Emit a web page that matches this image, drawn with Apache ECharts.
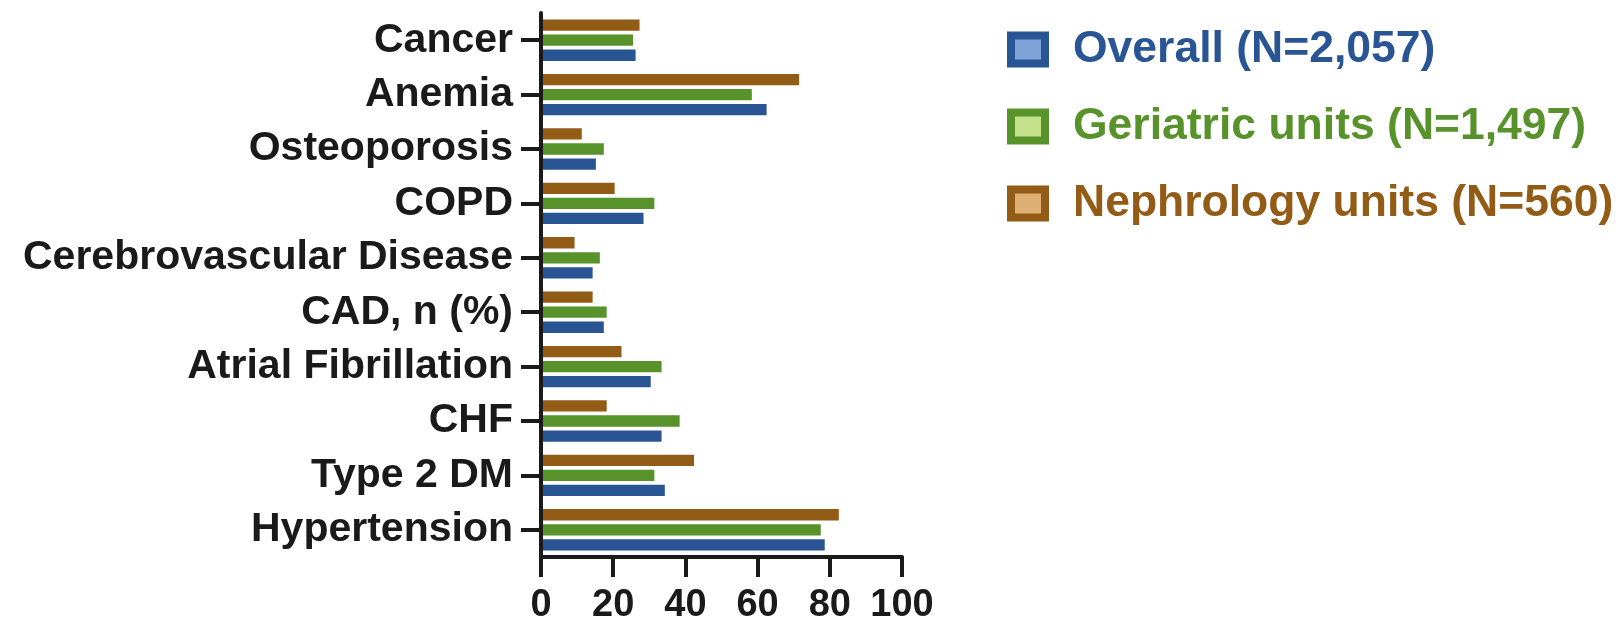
<!DOCTYPE html>
<html>
<head>
<meta charset="utf-8">
<script src="https://cdn.jsdelivr.net/npm/echarts@6/dist/echarts.min.js"></script>
<style>
  html, body { margin: 0; padding: 0; background: #ffffff; }
  #chart { width: 1622px; height: 626px; }
</style>
</head>
<body>
<div id="chart"></div>
<script>
// Comorbidity prevalence (%) by cohort, listed bottom to top
const categories = ['Hypertension', 'Type 2 DM', 'CHF', 'Atrial Fibrillation', 'CAD, n (%)',
  'Cerebrovascular Disease', 'COPD', 'Osteoporosis', 'Anemia', 'Cancer'];
const overall    = [78.6, 34.3, 33.4, 30.4, 17.4, 14.3, 28.4, 15.2, 62.5, 26.2];
const geriatric  = [77.5, 31.4, 38.4, 33.4, 18.2, 16.3, 31.4, 17.4, 58.4, 25.5];
const nephrology = [82.5, 42.4, 18.2, 22.3, 14.3,  9.3, 20.4, 11.3, 71.5, 27.3];
const xTicks = [0, 20, 40, 60, 80, 100];

const cohorts = [
  { name: 'Overall (N=2,057)',          values: overall,    dark: '#2a5594', light: '#7fa3d6' },
  { name: 'Geriatric units (N=1,497)',  values: geriatric,  dark: '#57922b', light: '#c3e08a' },
  { name: 'Nephrology units (N=560)',   values: nephrology, dark: '#925c16', light: '#dfb073' }
];

const FONT = '"Liberation Sans", Arial, Helvetica, sans-serif';
const INK = '#1a1a1a';

const chart = echarts.init(document.getElementById('chart'), null, { renderer: 'canvas' });

chart.setOption({
  animation: false,
  backgroundColor: '#ffffff',
  grid: { left: 541, top: 13, width: 361, height: 544, containLabel: false },
  legend: {
    orient: 'vertical',
    left: 1007,
    top: 27,
    padding: 0,
    itemWidth: 34,
    itemHeight: 28,
    itemGap: 32,
    icon: 'rect',
    data: cohorts.map(c => ({
      name: c.name,
      itemStyle: { color: c.light, borderColor: c.dark, borderWidth: 8 },
      textStyle: { color: c.dark }
    })),
    textStyle: {
      fontFamily: FONT,
      fontWeight: 'bold',
      fontSize: 44.5,
      lineHeight: 44,
      padding: [0, 0, 0, 23]
    }
  },
  xAxis: {
    type: 'value',
    min: xTicks[0],
    max: xTicks[xTicks.length - 1],
    interval: xTicks[1] - xTicks[0],
    z: 10,
    splitLine: { show: false },
    axisLine: { show: true, lineStyle: { color: INK, width: 4 } },
    axisTick: { show: true, length: 20, lineStyle: { color: INK, width: 4 } },
    axisLabel: {
      margin: 30,
      color: INK,
      fontFamily: FONT,
      fontWeight: 'bold',
      fontSize: 38,
      formatter: v => xTicks.includes(v) ? String(v) : ''
    }
  },
  yAxis: {
    type: 'category',
    data: categories,
    z: 10,
    axisLine: { show: true, lineStyle: { color: INK, width: 4 } },
    axisTick: { show: true, length: 20, alignWithLabel: true, lineStyle: { color: INK, width: 4 } },
    axisLabel: {
      margin: 28,
      color: INK,
      fontFamily: FONT,
      fontWeight: 'bold',
      fontSize: 41
    }
  },
  // Nephrology drawn first so it sits at the top of each group, Overall at the bottom
  series: cohorts.slice().reverse().map(c => ({
    name: c.name,
    type: 'bar',
    data: c.values,
    barWidth: 11.3,
    barGap: '33%',
    itemStyle: { color: c.dark }
  }))
});
</script>
</body>
</html>
